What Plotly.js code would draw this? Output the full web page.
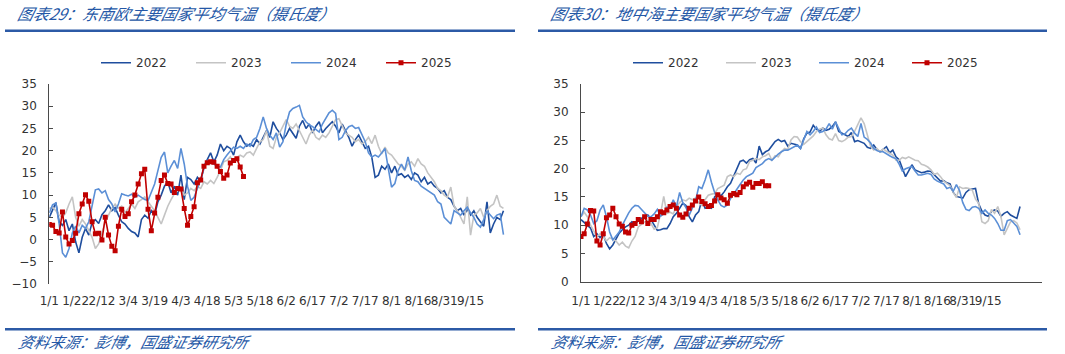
<!DOCTYPE html>
<html><head><meta charset="utf-8">
<script src="https://cdn.plot.ly/plotly-3.0.1.min.js"></script>
<style>html,body{margin:0;padding:0;background:#fff}#chart{width:1065px;height:354px}</style>
</head><body><div id="chart"></div>
<script>
// ---------- data ----------
const tickLabels = ['1/1','1/22','2/12','3/4','3/19','4/3','4/18','5/3','5/18','6/2','6/17','7/2','7/17','8/1','8/16','8/31','9/15'];
const years = ['2022','2023','2024','2025'];
const titleLeft = '图表29：东南欧主要国家平均气温（摄氏度）';
const titleRight = '图表30：地中海主要国家平均气温（摄氏度）';
const sourceText = '资料来源：彭博，国盛证券研究所';

// 东南欧 (Southeast Europe)
const see2022 = [
5.0,6.5,8.3,4.0,3.2,4.5,2.0,3.5,-0.5,-3.0,
0.5,2.5,1.0,3.8,4.5,3.6,5.6,6.5,7.8,6.5,
7.2,5.5,4.0,3.5,2.5,1.8,1.5,0.6,4.5,5.5,
4.8,6.5,5.5,8.5,10.0,12.0,13.0,10.5,12.0,10.0,
14.5,9.0,14.0,13.5,12.5,14.0,13.0,16.5,18.0,19.5,
17.5,19.0,21.5,20.0,21.0,20.5,19.0,22.0,23.5,22.0,
21.0,21.5,21.0,22.5,21.5,23.0,24.5,23.0,26.5,25.0,
24.0,22.5,23.5,25.0,24.0,22.8,25.5,26.8,25.0,26.0,
24.0,25.5,26.5,24.0,25.0,25.8,26.5,25.5,24.0,26.0,
24.5,23.0,21.0,22.5,23.5,22.0,20.5,21.0,18.5,14.0,
14.5,16.5,15.8,17.0,15.0,16.5,14.5,14.8,14.0,14.5,
13.5,15.0,14.5,13.0,14.0,12.5,13.0,12.0,11.5,10.5,
11.0,9.5,9.0,7.5,6.5,7.0,5.5,6.8,5.5,6.5,
5.0,4.0,3.0,8.5,1.5,3.5,5.0,4.5,6.5];
const see2023 = [
7.0,7.3,6.5,5.5,5.0,6.0,8.0,9.6,5.0,3.0,
4.5,3.5,2.0,0.5,-2.0,-1.0,1.5,4.0,5.5,7.0,
8.0,7.0,7.5,6.0,7.0,8.0,7.0,8.5,9.0,9.6,
8.5,7.5,6.5,5.0,3.5,5.5,7.5,9.0,10.3,11.0,
11.8,10.0,10.5,11.5,11.0,12.0,11.5,13.0,12.5,13.3,
12.6,14.0,15.5,17.5,17.8,18.6,17.5,18.5,19.0,18.6,
19.5,19.7,19.0,20.5,22.0,22.5,24.5,21.0,20.5,23.0,
24.0,25.5,27.0,25.5,25.0,26.0,24.5,23.0,21.5,23.5,
24.6,23.0,22.5,23.5,23.0,24.0,25.5,27.0,27.2,25.5,
24.0,23.5,23.0,22.0,22.5,21.5,22.0,23.0,21.6,23.5,
21.0,19.3,20.8,19.5,19.0,18.0,17.0,16.5,15.6,17.0,
17.5,16.5,18.2,17.0,16.5,15.0,14.0,13.0,11.5,11.0,
10.0,9.5,11.8,7.5,6.5,5.0,3.5,9.6,1.0,5.5,
6.0,7.0,5.0,6.5,7.5,8.0,10.0,7.5,7.0];
const see2024 = [
6.0,7.8,8.2,3.5,-3.0,-4.0,-2.0,1.5,3.0,1.5,
3.2,2.5,4.0,8.0,11.2,11.4,10.5,11.0,9.0,8.0,
6.2,8.0,10.3,10.0,9.8,10.2,9.5,10.0,9.5,9.0,
8.8,10.5,12.5,15.5,18.5,19.7,15.0,16.5,17.8,16.0,
20.5,17.0,12.0,8.8,9.5,11.5,13.5,16.0,17.8,17.5,
17.0,16.5,16.3,18.0,19.0,20.0,20.8,20.5,21.0,20.5,
21.5,21.0,22.5,23.0,25.0,27.6,25.0,23.5,22.5,24.0,
20.8,22.0,26.0,28.7,29.5,29.8,30.2,27.6,26.5,25.8,
25.4,24.8,24.2,26.0,27.2,28.5,29.1,28.4,22.5,23.0,
24.5,25.4,25.7,25.0,25.2,23.5,22.0,19.5,18.6,19.0,
18.6,19.5,20.5,16.0,11.8,12.6,15.5,17.0,15.6,18.6,
15.5,13.3,13.0,12.0,11.5,11.0,10.5,10.0,8.5,8.0,
5.0,4.3,3.5,6.5,6.0,5.5,6.5,7.3,6.0,5.0,
3.5,2.8,4.5,6.5,5.5,4.7,5.5,5.8,1.1];
const see2025 = [
3.4,3.2,1.8,1.5,6.2,0.6,-1.0,-0.2,1.4,5.8,
8.0,10.1,8.6,4.0,1.3,1.4,-0.1,5.0,1.0,-1.5,
-2.5,3.0,6.8,5.2,5.8,8.5,10.0,12.5,14.8,15.8,
6.8,2.0,6.0,9.5,13.3,14.5,12.6,12.5,10.6,11.5,
11.4,7.0,3.2,5.2,7.4,12.8,13.4,16.5,17.3,17.5,
17.4,16.5,15.3,13.8,14.5,17.2,17.8,18.2,16.3,14.2];

// 地中海 (Mediterranean)
const med2022 = [
11.0,10.5,10.0,9.5,8.0,8.5,7.8,8.3,6.8,5.8,
6.5,7.5,8.6,9.2,9.7,10.0,10.6,10.3,10.8,11.2,
11.6,11.8,11.0,10.0,9.1,9.2,9.4,9.4,10.3,11.5,
12.1,13.0,13.9,13.5,11.5,10.6,11.8,12.4,14.5,13.0,
13.2,13.0,15.0,15.6,15.2,15.9,16.8,17.4,18.7,20.0,
21.3,21.5,21.0,21.6,21.8,21.0,24.0,22.5,23.0,23.3,
24.0,24.8,25.2,24.8,25.0,24.0,24.5,24.3,24.2,23.6,
25.3,26.3,26.5,27.7,27.0,26.6,27.2,26.8,27.0,27.5,
28.3,26.6,26.3,26.0,25.7,26.4,24.8,25.0,24.7,24.5,
23.8,23.6,24.2,23.4,23.0,23.5,23.9,22.8,23.3,22.1,
21.6,20.1,18.6,19.6,20.7,19.8,19.5,19.3,19.4,19.6,
19.5,18.9,18.3,17.8,17.9,17.5,17.3,15.8,15.1,15.0,
14.8,15.8,16.3,16.4,16.5,13.8,12.5,11.8,11.6,12.4,
12.7,12.5,11.6,12.1,12.4,11.8,11.5,11.2,13.3];
const med2023 = [
11.5,12.3,11.5,10.0,9.0,8.0,8.5,8.0,7.2,7.8,
7.5,7.2,6.5,7.0,6.3,6.0,7.2,8.0,9.7,10.2,
10.6,10.9,10.3,9.3,9.6,12.0,15.1,12.1,12.3,12.0,
13.3,14.0,14.5,14.3,14.8,14.5,14.8,14.0,13.5,14.5,
15.3,15.5,15.6,16.5,16.8,17.1,18.6,18.9,18.6,19.2,
19.0,19.8,20.0,21.3,21.5,21.8,21.6,22.1,22.3,22.7,
21.5,22.3,22.1,23.0,23.6,23.4,25.1,25.7,25.6,24.8,
24.3,24.8,25.3,25.8,26.6,27.0,27.2,26.0,25.3,25.1,
26.2,25.0,24.8,25.1,25.6,25.7,26.6,27.7,29.0,28.0,
25.8,24.0,23.3,23.6,23.0,23.5,23.1,22.8,22.4,21.5,
21.5,22.0,21.8,22.1,21.8,21.5,21.4,20.8,20.6,20.3,
19.8,19.0,19.2,18.6,17.8,17.4,17.0,15.8,14.9,16.8,
16.5,16.6,16.5,16.2,14.6,13.9,10.6,10.3,10.8,12.8,
12.1,13.3,11.5,8.3,9.5,10.6,10.8,10.4,9.2];
const med2024 = [
11.5,13.0,12.7,11.8,10.3,10.8,12.7,13.6,11.5,8.8,
7.4,8.2,8.8,10.0,11.2,12.2,13.0,13.5,13.4,12.8,
12.1,11.6,11.5,12.0,12.8,11.6,12.0,13.2,13.0,14.5,
13.3,15.8,14.0,13.1,11.8,13.2,14.3,16.8,16.5,18.0,
19.8,17.6,15.8,14.5,13.5,13.2,13.6,14.7,15.6,16.4,
17.2,18.0,18.6,18.9,19.2,20.2,20.5,20.9,21.5,21.8,
21.5,22.1,22.6,23.0,23.3,23.3,23.6,23.9,24.2,23.6,
25.0,26.6,26.0,26.6,27.4,26.4,26.6,27.0,28.0,27.0,
28.3,27.0,26.0,26.2,26.8,27.2,26.3,25.7,28.0,25.6,
25.2,24.6,23.6,23.2,23.0,23.0,22.6,22.3,22.0,21.8,
20.8,19.6,20.0,20.2,20.4,19.6,18.9,18.9,19.1,19.2,
19.0,18.2,17.8,17.6,17.3,16.5,16.7,16.0,17.2,16.1,
14.0,12.8,12.6,13.2,13.3,13.0,12.1,12.7,12.1,11.8,
11.2,10.3,9.1,9.1,10.8,11.0,10.3,9.8,8.3];
const med2025 = [
8.0,8.5,10.2,12.6,12.5,7.2,6.5,8.5,11.3,11.8,
13.0,11.5,10.2,9.8,8.8,8.6,10.0,10.3,11.0,10.6,
11.5,10.3,11.0,11.0,11.5,12.4,12.2,12.7,13.3,13.6,
13.0,11.8,11.4,12.0,13.0,13.6,14.3,15.0,14.2,13.8,
13.3,13.5,14.3,15.4,14.8,14.5,13.9,15.3,15.6,15.4,
15.8,16.8,17.3,17.6,16.7,17.4,17.4,17.7,17.0,17.0];

// ---------- styling ----------
const W = 1065, H = 354;
const px = v => v / W, py = v => 1 - v / H;
const colors = ['#1f4e9e', '#c4c4c4', '#5b8fd6', '#c00000'];
const axisColor = '#4a4a4a';
const textColor = '#333333';
const blue = '#2457a6';
const tickFont = {family: 'DejaVu Sans, Verdana, sans-serif', size: 12, color: textColor};
const titleFont = {family: 'Noto Sans CJK SC, sans-serif', size: 15.8, color: blue, style: 'italic'};
const sourceFont = {family: 'Noto Sans CJK SC, sans-serif', size: 15.3, color: blue, style: 'italic'};

const labelStep = 8, tickStep = 17;
const labelVals = tickLabels.map((_, i) => i * labelStep);
const tickVals = [];
for (let v = 0; v <= 136; v += tickStep) tickVals.push(v);

const idx = a => a.map((_, i) => i);

function mk(arr, k, xa, ya, leg) {
  const t = {
    x: idx(arr), y: arr, name: years[k], type: 'scatter',
    mode: k === 3 ? 'lines+markers' : 'lines',
    line: {color: colors[k], width: 1.6},
    xaxis: xa, yaxis: ya, legend: leg
  };
  if (k === 3) t.marker = {symbol: 'square', size: 5, color: colors[k]};
  return t;
}

const data = [
  mk(see2022, 0, 'x', 'y', 'legend'),
  mk(see2023, 1, 'x', 'y', 'legend'),
  mk(see2024, 2, 'x', 'y', 'legend'),
  mk(see2025, 3, 'x', 'y', 'legend'),
  mk(med2022, 0, 'x3', 'y2', 'legend2'),
  mk(med2023, 1, 'x3', 'y2', 'legend2'),
  mk(med2024, 2, 'x3', 'y2', 'legend2'),
  mk(med2025, 3, 'x3', 'y2', 'legend2')
];

// left panel geometry
const Ldom = [px(49.3), px(513)];
const LyDom = [py(284), py(84)];
const Lrange = [0, 140.9];
const Lyr = [-10, 35];
const zeroFrac = LyDom[0] + (0 - Lyr[0]) / (Lyr[1] - Lyr[0]) * (LyDom[1] - LyDom[0]);
// right panel geometry
const Rdom = [px(581), px(1042)];
const RyDom = [py(281.7), py(84)];
const Rrange = [0, 144.9];

const labelAxis = (dom, anchor, range, line) => ({
  domain: dom, anchor: anchor, range: range, tickmode: 'array',
  tickvals: labelVals, ticktext: tickLabels, ticks: '', tickangle: 0,
  showline: line, linecolor: axisColor, linewidth: 1,
  showgrid: false, zeroline: false, tickfont: tickFont, ticklabelstandoff: 8,
  fixedrange: true
});
const tickAxis = (over, anchor, range, extra) => Object.assign({
  overlaying: over, anchor: anchor, range: range, tickmode: 'array',
  tickvals: tickVals, ticks: 'inside', ticklen: 5, tickwidth: 1, tickcolor: axisColor,
  showticklabels: false, showgrid: false, zeroline: false, showline: false,
  fixedrange: true
}, extra || {});
const yAx = (dom, anchor, range) => ({
  domain: dom, anchor: anchor, range: range, tickmode: 'linear', tick0: 0, dtick: 5,
  ticks: 'inside', ticklen: 4, tickwidth: 1, tickcolor: axisColor,
  showline: true, linecolor: axisColor, linewidth: 1,
  showgrid: false, zeroline: false, tickfont: tickFont, ticklabelstandoff: 9,
  fixedrange: true
});

const legendBase = {
  orientation: 'h', xanchor: 'left', yanchor: 'middle', y: py(62.7),
  font: {family: 'DejaVu Sans, Verdana, sans-serif', size: 12, color: textColor},
  bgcolor: 'rgba(0,0,0,0)', borderwidth: 0,
  entrywidthmode: 'pixels', itemclick: false, itemdoubleclick: false
};

const line = (x0, x1, y) => ({type: 'line', xref: 'paper', yref: 'paper',
  x0: px(x0), x1: px(x1), y0: py(y), y1: py(y), line: {color: '#2c5aa6', width: 2.5}});

const ann = (text, x, y, font) => ({text: '<i>' + text + '</i>', xref: 'paper', yref: 'paper', x: px(x), y: py(y),
  xanchor: 'left', yanchor: 'middle', showarrow: false, font: font});

const layout = {
  width: W, height: H, margin: {l: 0, r: 0, t: 0, b: 0},
  paper_bgcolor: '#ffffff', plot_bgcolor: 'rgba(0,0,0,0)',
  showlegend: true,
  xaxis: labelAxis(Ldom, 'y', Lrange, false),
  xaxis2: tickAxis('x', 'free', Lrange, {position: zeroFrac, showline: true, linecolor: axisColor, linewidth: 1}),
  yaxis: yAx(LyDom, 'x', Lyr),
  xaxis3: labelAxis(Rdom, 'y2', Rrange, true),
  xaxis4: tickAxis('x3', 'y2', Rrange),
  yaxis2: yAx(RyDom, 'x3', [0, 35]),
  legend: Object.assign({}, legendBase, {x: px(96), entrywidth: 50}),
  legend2: Object.assign({}, legendBase, {x: px(628), entrywidth: 48}),
  shapes: [line(5, 515, 30.7), line(538, 1047, 30.7), line(5, 515, 329.3), line(538, 1047, 329.3)],
  annotations: [ann(titleLeft, 16, 14, titleFont), ann(titleRight, 549, 14, titleFont),
                ann(sourceText, 17, 341, sourceFont), ann(sourceText, 550, 341, sourceFont)]
};

Plotly.newPlot('chart', data, layout, {displayModeBar: false, staticPlot: true}).then(gd => {
  // CJK fonts have no italic face: slant the title/source text like the original
  gd.querySelectorAll('.annotation-text').forEach(el => {
    el.style.transformBox = 'fill-box';
    el.style.transformOrigin = '50% 50%';
    el.style.transform = 'skewX(-14deg)';
  });
});
</script>
</body></html>
